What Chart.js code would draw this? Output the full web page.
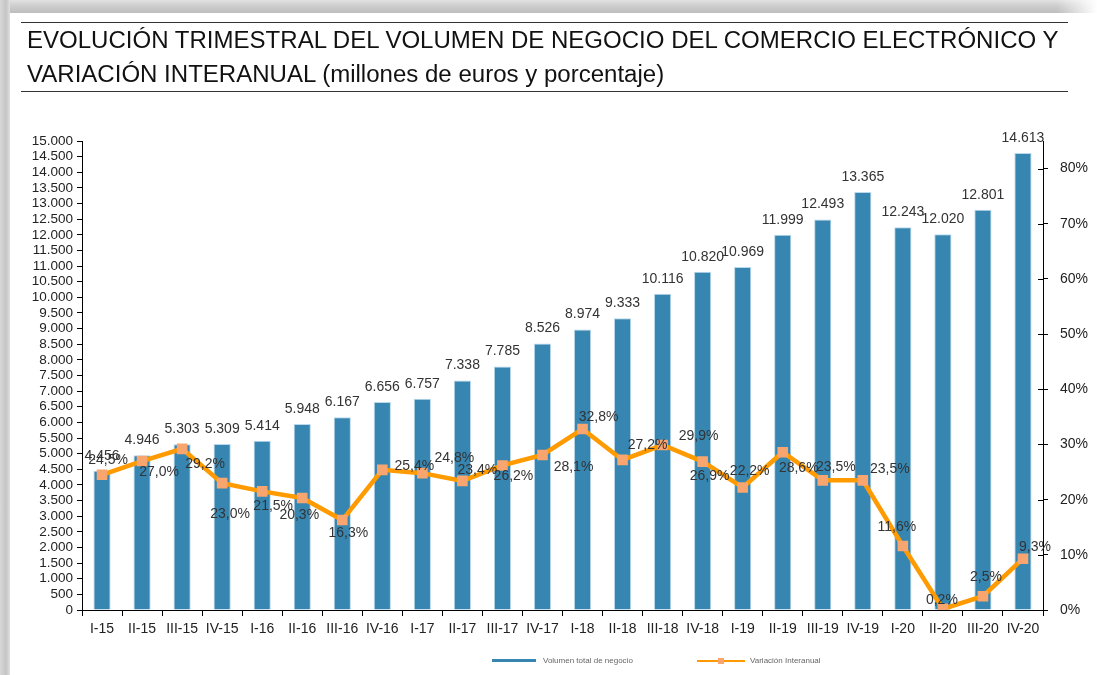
<!DOCTYPE html>
<html>
<head>
<meta charset="utf-8">
<script src="https://cdn.jsdelivr.net/npm/chart.js@4/dist/chart.umd.min.js"></script>
<style>
  html,body{margin:0;padding:0;background:#fff;width:1097px;height:675px;overflow:hidden;font-family:"Liberation Sans",Arial,sans-serif;}
  #frameTop{position:absolute;left:0;top:0;width:1097px;height:13px;background:linear-gradient(to bottom,#e2e2e2 0px,#d0d0d0 5px,#bdbdbd 13px);}
  #frameTop:after{content:"";position:absolute;right:0;top:0;width:40px;height:13px;background:linear-gradient(to right,rgba(255,255,255,0),#fff);}
  #frameLeft{position:absolute;left:0;top:0;width:10px;height:675px;background:linear-gradient(to right,#d8d8d8,#c4c4c4 60%,#e0e0e0);}
  .rule{position:absolute;left:21px;width:1047px;height:0;border-top:1.5px solid #333;}
  #title{position:absolute;left:27px;top:23px;font-size:23px;line-height:34px;color:#111;white-space:nowrap;transform:scaleX(1.045);transform-origin:0 0;}
  #chartWrap{position:absolute;left:0;top:0;width:1097px;height:675px;}
  .leg{position:absolute;top:656px;font-size:8px;color:#666;white-space:nowrap;}
</style>
</head>
<body>
<div id="chartWrap"><canvas id="c" width="1097" height="675"></canvas></div>
<div id="frameTop"></div>
<div id="frameLeft"></div>
<div class="rule" style="top:22px"></div>
<div class="rule" style="top:91px"></div>
<div id="title">EVOLUCIÓN TRIMESTRAL DEL VOLUMEN DE NEGOCIO DEL COMERCIO ELECTRÓNICO Y<br>VARIACIÓN INTERANUAL (millones de euros y porcentaje)</div>
<div class="leg" style="left:492px;"><span style="display:inline-block;width:44px;height:3px;background:#3686b1;vertical-align:middle;margin-right:7px"></span>Volumen total de negocio</div>
<div class="leg" style="left:697px;"><span style="display:inline-block;position:relative;width:48px;height:2px;background:#ff9a00;vertical-align:middle;margin-right:5px"><span style="position:absolute;left:21px;top:-2px;width:6px;height:6px;background:#f8a570;"></span></span>Variación Interanual</div>
<script>
const categories = ["I-15","II-15","III-15","IV-15","I-16","II-16","III-16","IV-16","I-17","II-17","III-17","IV-17","I-18","II-18","III-18","IV-18","I-19","II-19","III-19","IV-19","I-20","II-20","III-20","IV-20"];
const volumen = [4456,4946,5303,5309,5414,5948,6167,6656,6757,7338,7785,8526,8974,9333,10116,10820,10969,11999,12493,13365,12243,12020,12801,14613];
const variacion = [24.5,27.0,29.2,23.0,21.5,20.3,16.3,25.4,24.8,23.4,26.2,28.1,32.8,27.2,29.9,26.9,22.2,28.6,23.5,23.5,11.6,0.2,2.5,9.3];
const leftTicksMax = 15000, leftStep = 500;
const rightTicksMax = 85, rightStep = 10, rightLabelMax = 80;

// label placement (offset of label centre from point), styling only
const pctLabelOffsets = [[6,-15],[17,11],[23,15],[8,31],[11,15],[-3,17],[6,13],[32,-4],[32,-15],[15,-11],[11,11],[31,12],[16,-12],[25,-15],[36,-9],[7,15],[7,-16],[16,16],[13,-13],[27,-11],[-6,-19],[-1,-9],[3,-19],[12,-12]];

function fmtThousands(v){ return String(Math.round(v)).replace(/\B(?=(\d{3})+(?!\d))/g,"."); }
function fmtPct(v){ return v.toFixed(1).replace(".",",") + "%"; }

const labelPlugin = {
  id:'labelPlugin',
  afterDatasetsDraw(chart){
    const ctx = chart.ctx;
    ctx.save();
    ctx.font = '14px "Liberation Sans", Arial, sans-serif';
    ctx.fillStyle = '#333';
    ctx.textAlign = 'center';
    const barMeta = chart.getDatasetMeta(0);
    barMeta.data.forEach((el,i)=>{
      ctx.textBaseline = 'bottom';
      ctx.fillText(fmtThousands(volumen[i]), el.x, el.y - 8);
    });
    const lineMeta = chart.getDatasetMeta(1);
    lineMeta.data.forEach((el,i)=>{
      const o = pctLabelOffsets[i];
      ctx.textBaseline = 'middle';
      ctx.fillText(fmtPct(variacion[i]), el.x + o[0], el.y + o[1]);
    });
    // right axis inner tick halves
    const ry = chart.scales.y2;
    ctx.strokeStyle = '#000'; ctx.lineWidth = 1;
    ry.ticks.forEach(t=>{
      const y = Math.round(ry.getPixelForValue(t.value)) + 0.5;
      ctx.beginPath(); ctx.moveTo(ry.left - 5, y); ctx.lineTo(ry.left, y); ctx.stroke();
    });
    ctx.restore();
  }
};

new Chart(document.getElementById('c'), {
  data:{
    labels: categories,
    datasets:[
      {type:'bar', label:'Volumen total de negocio', data: volumen, yAxisID:'y',
       backgroundColor:'#3686b1', borderColor:'#b9d8ea', borderWidth:1, borderSkipped:'bottom',
       categoryPercentage:1, barPercentage:0.43, order:2},
      {type:'line', label:'Variación Interanual', data: variacion, yAxisID:'y2',
       borderColor:'#ff9a00', borderWidth:4.5, pointStyle:'rect', pointRadius:7.5, pointHoverRadius:7.5,
       pointBackgroundColor:'#f8a570', pointBorderColor:'#f8a570', pointBorderWidth:0, tension:0, order:1}
    ]
  },
  options:{
    responsive:false, animation:false,
    layout:{padding:{left:0,right:0,top:141,bottom:35}},
    plugins:{legend:{display:false}, tooltip:{enabled:false}},
    scales:{
      x:{
        grid:{display:true, drawOnChartArea:false, drawTicks:true, tickLength:6, offset:true, color:'#000'},
        border:{display:true, color:'#000', width:1},
        ticks:{color:'#222', font:{size:14, family:'"Liberation Sans", Arial, sans-serif'}, padding:5, autoSkip:false, maxRotation:0},
        afterFit(s){ s.height = 30; }
      },
      y:{
        position:'left', min:0, max:leftTicksMax,
        grid:{display:true, drawOnChartArea:false, drawTicks:true, tickLength:5, color:'#000'},
        border:{display:true, color:'#000', width:1},
        ticks:{stepSize:leftStep, autoSkip:false, color:'#222', padding:4,
               font:{size:13.5, family:'"Liberation Sans", Arial, sans-serif'},
               callback:(v)=>fmtThousands(v)},
        afterFit(s){ s.width = 82; }
      },
      y2:{
        position:'right', min:0, max:rightTicksMax,
        grid:{display:true, drawOnChartArea:false, drawTicks:true, tickLength:5, color:'#000'},
        border:{display:true, color:'#000', width:1},
        ticks:{stepSize:rightStep, autoSkip:false, color:'#222', padding:12,
               font:{size:14, family:'"Liberation Sans", Arial, sans-serif'},
               callback:(v)=>v + '%'},
        afterBuildTicks(s){ s.ticks = s.ticks.filter(t=>t.value <= rightLabelMax); },
        afterFit(s){ s.width = 54; }
      }
    }
  },
  plugins:[labelPlugin]
});
</script>
</body>
</html>
